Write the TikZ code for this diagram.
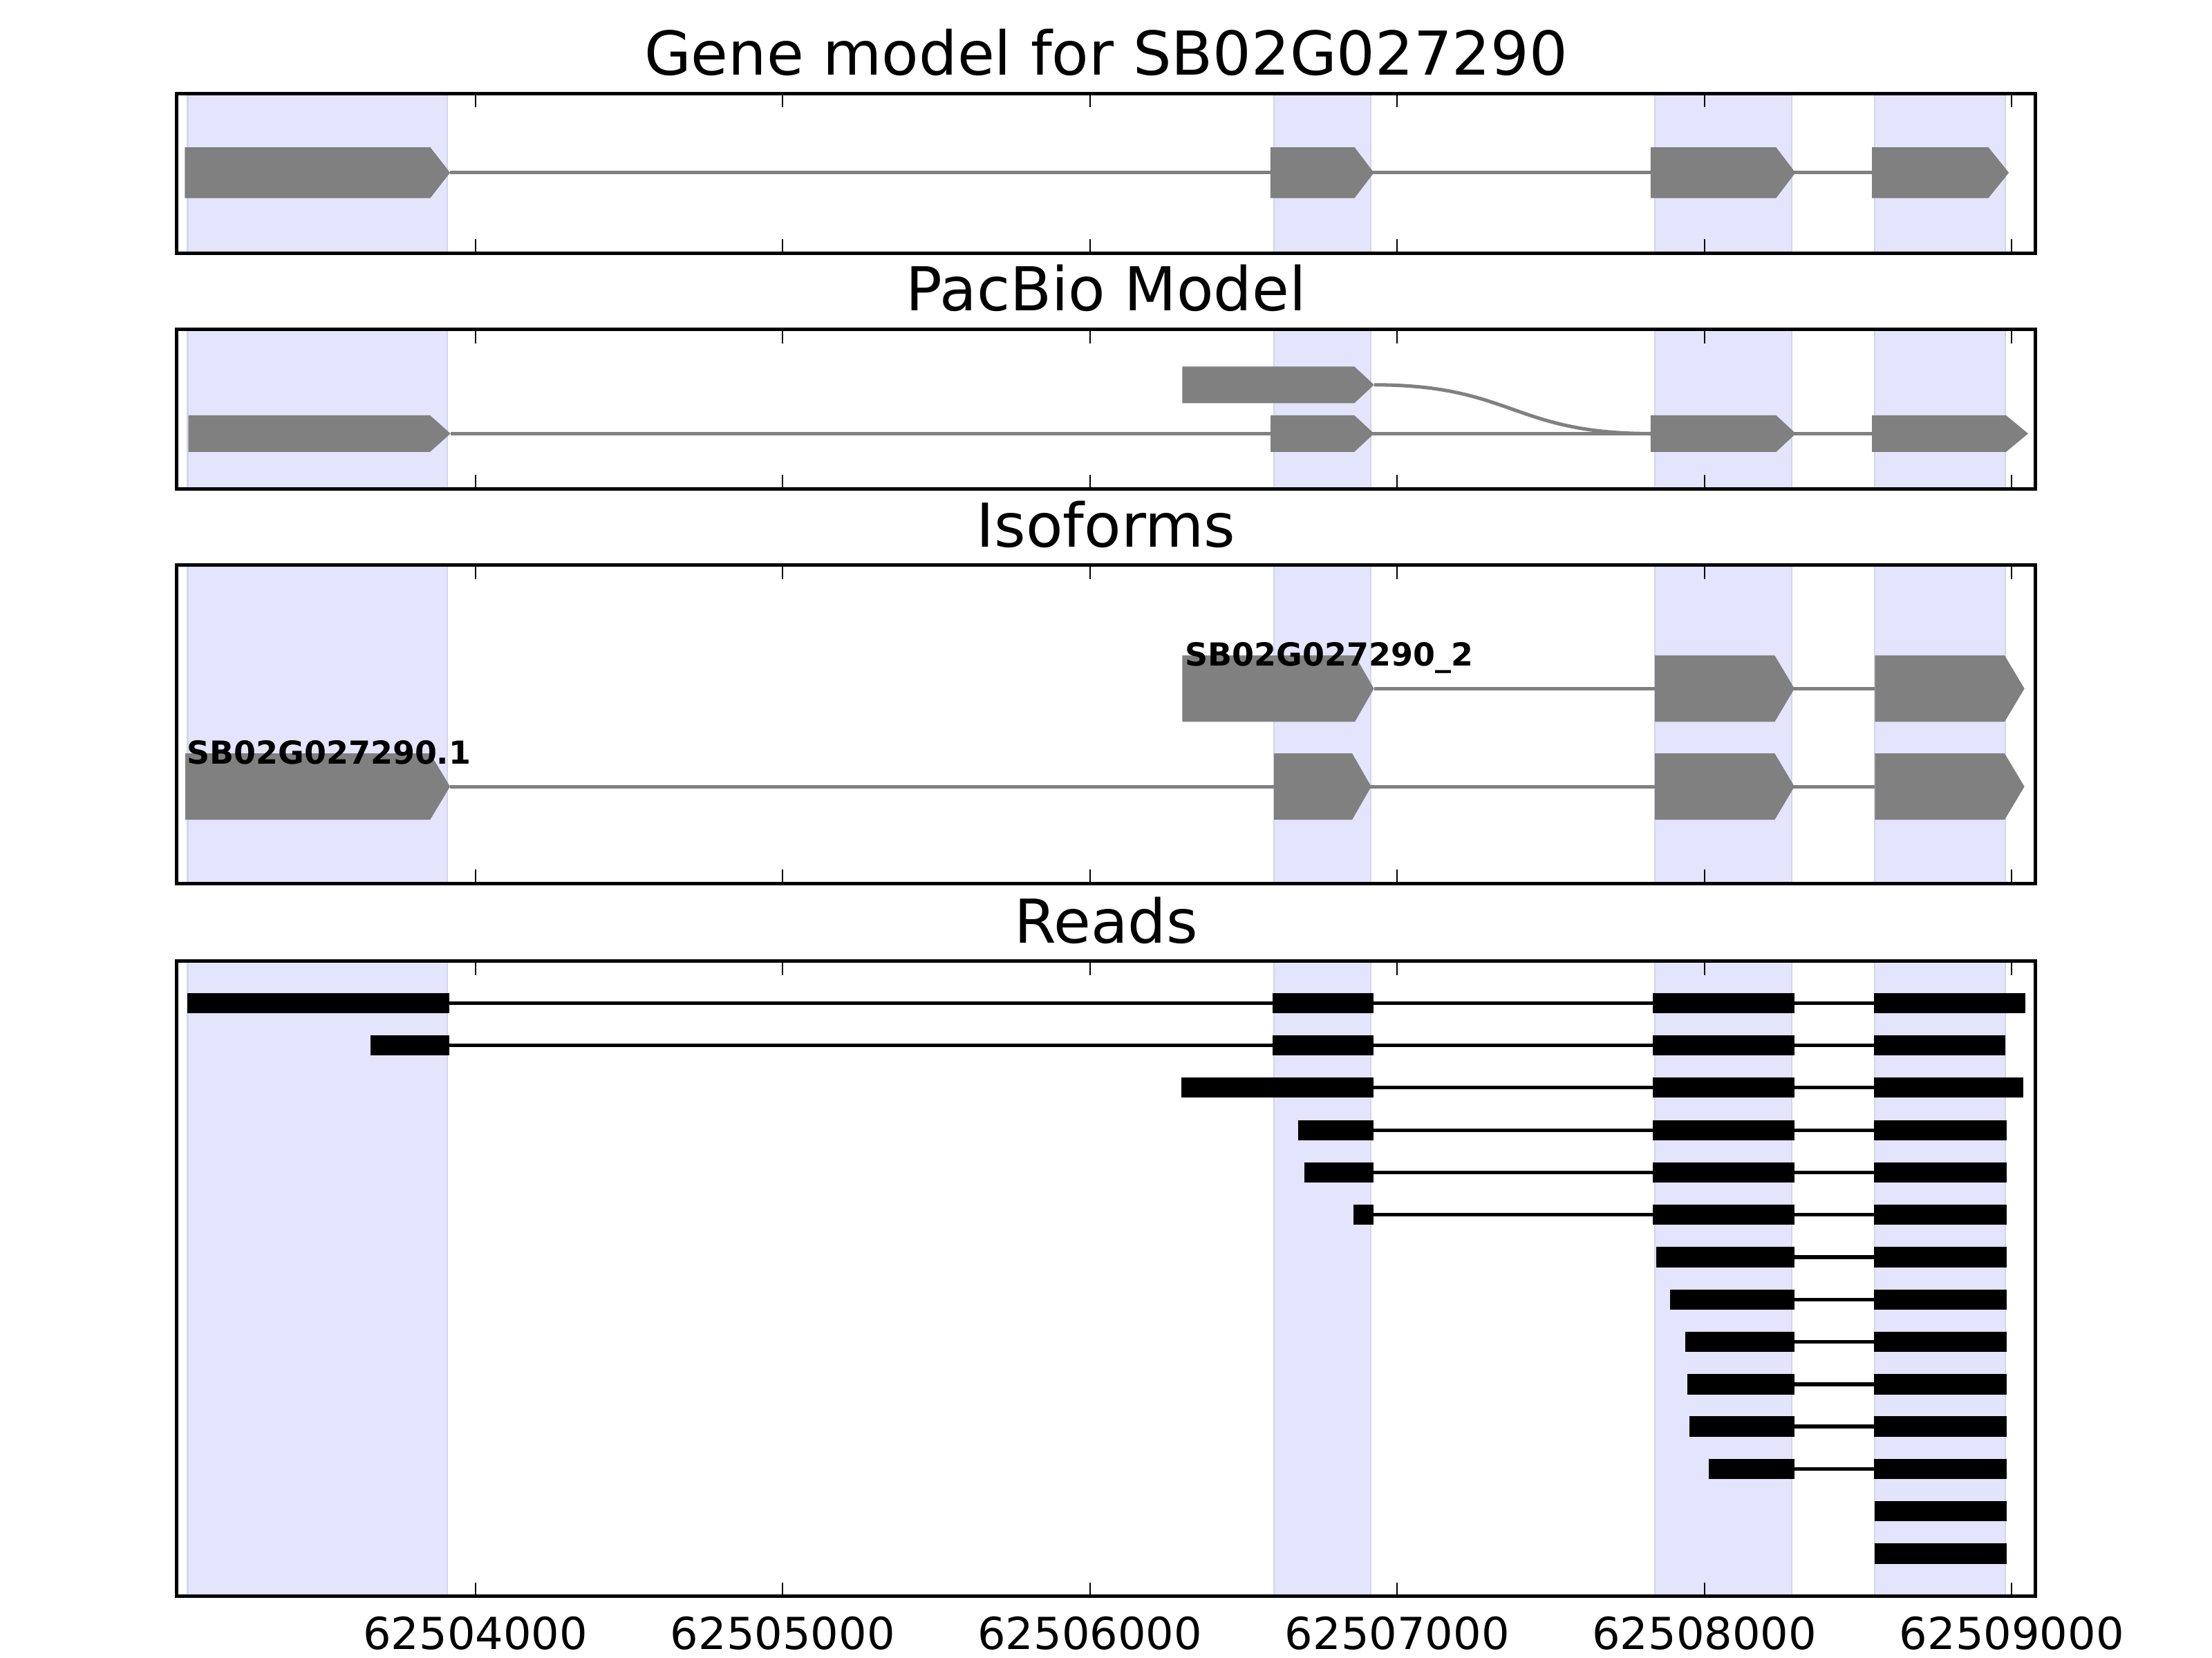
\documentclass[tikz,border=0pt]{standalone}
\usepackage{fontspec}
\setmainfont{DejaVu Sans}

\definecolor{exonshade}{RGB}{228,228,252}
\definecolor{shadeedge}{RGB}{212,212,238}
\definecolor{glyphgray}{RGB}{128,128,128}

% gene glyph: start, body end, tip, centre, half height
\newcommand{\genearrow}[5]{\fill[glyph] (#1,#4-#5) -- (#2,#4-#5) -- (#3,#4) -- (#2,#4+#5) -- (#1,#4+#5) -- cycle;}
% read block: start, end, row
\newcommand{\readbox}[3]{\fill[readblock] (#1,#3-7.2) rectangle (#2,#3+7.2);}

\begin{document}
\begin{tikzpicture}[x=2.178cm, y=-0.01cm,
    shade/.style={fill=exonshade, draw=shadeedge, line width=0.3pt},
    frame/.style={draw=black, line width=0.7pt},
    tickmark/.style={draw=black, line width=0.3pt},
    intron/.style={draw=glyphgray, line width=0.7pt},
    glyph/.style={fill=glyphgray},
    readline/.style={draw=black, line width=0.75pt},
    readblock/.style={fill=black},
    paneltitle/.style={font=\fontsize{12.2}{14}\selectfont, anchor=base, inner sep=0pt},
    ticklabel/.style={font=\fontsize{8.9}{10}\selectfont, anchor=base, inner sep=0pt},
    isolabel/.style={font=\bfseries\fontsize{6.4}{7}\selectfont, anchor=base west, inner sep=0pt}]

  \useasboundingbox (2.4527,0) rectangle (9.6520,1176);

  % panels: shaded exons, ticks, frame
  \foreach \ptop/\pbot in {66.2/179.7, 233.6/347, 401/627, 681.7/1132.5} {
    \foreach \s/\e in {3.0634/3.9082, 6.5987/6.9132, 7.8384/8.2837, 8.5546/8.9793}
      \filldraw[shade] (\s,\ptop) rectangle (\e,\pbot);
    \foreach \k in {4,...,9} {
      \draw[tickmark] (\k,\ptop) -- (\k,\ptop+10);
      \draw[tickmark] (\k,\pbot) -- (\k,\pbot-10);
    }
    \draw[frame] (3.0266,\ptop) rectangle (9.0781,\pbot);
  }

  % titles
  \node[paneltitle] (title-gene) at (6.0523,53) {Gene model for SB02G027290};
  \node[paneltitle] (title-pacbio) at (6.0523,220.5) {PacBio Model};
  \node[paneltitle] (title-iso) at (6.0523,388) {Isoforms};
  \node[paneltitle] (title-reads) at (6.0523,669) {Reads};

  % gene model
  \draw[intron] (3.9174,122.5) -- (8.5454,122.5);
  \genearrow{3.0542}{3.8531}{3.9174}{122.5}{18}
  \genearrow{6.5872}{6.8613}{6.9242}{122.5}{18}
  \genearrow{7.8246}{8.2332}{8.2961}{122.5}{18}
  \genearrow{8.5454}{8.9242}{8.9908}{122.5}{18}

  % pacbio model
  \draw[intron] (3.9187,307.6) -- (8.5454,307.6);
  \draw[intron] (6.9247,273) .. controls (7.375,273) and (7.375,307.6) .. (7.8246,307.6);
  \genearrow{6.3003}{6.8604}{6.9247}{273}{13}
  \genearrow{3.0661}{3.8522}{3.9187}{307.6}{13}
  \genearrow{6.5877}{6.8604}{6.9247}{307.6}{13}
  \genearrow{7.8246}{8.2332}{8.2975}{307.6}{13}
  \genearrow{8.5454}{8.9816}{9.0533}{307.6}{13}

  % isoforms
  \draw[intron] (6.9242,488.5) -- (8.5546,488.5);
  \draw[intron] (3.9174,558) -- (8.5546,558);
  \genearrow{6.3007}{6.8623}{6.9242}{488.5}{23.5}
  \genearrow{7.8384}{8.2287}{8.2929}{488.5}{23.5}
  \genearrow{8.5546}{8.9770}{9.0413}{488.5}{23.5}
  \genearrow{3.0556}{3.8526}{3.9174}{558}{23.5}
  \genearrow{6.5987}{6.8535}{6.9155}{558}{23.5}
  \genearrow{7.8384}{8.2287}{8.2929}{558}{23.5}
  \genearrow{8.5546}{8.9770}{9.0413}{558}{23.5}
  \node[isolabel] (lab-iso2) at (6.3072,472.4) {SB02G027290\_2};
  \node[isolabel] (lab-iso1) at (3.0583,542) {SB02G027290.1};

  % reads
  \draw[readline] (3.0629,711.5) -- (9.0436,711.5);
  \readbox{3.0629}{3.9146}{711.5}
  \readbox{6.5941}{6.9224}{711.5}
  \readbox{7.8315}{8.2929}{711.5}
  \readbox{8.5523}{9.0436}{711.5}

  \draw[readline] (3.6584,741.6) -- (8.9793,741.6);
  \readbox{3.6584}{3.9146}{741.6}
  \readbox{6.5941}{6.9224}{741.6}
  \readbox{7.8315}{8.2929}{741.6}
  \readbox{8.5523}{8.9793}{741.6}

  \draw[readline] (6.2980,771.6) -- (9.0367,771.6);
  \readbox{6.2980}{6.9224}{771.6}
  \readbox{7.8315}{8.2929}{771.6}
  \readbox{8.5523}{9.0367}{771.6}

  \draw[readline] (6.6768,801.7) -- (8.9839,801.7);
  \readbox{6.6768}{6.9224}{801.7}
  \readbox{7.8315}{8.2929}{801.7}
  \readbox{8.5523}{8.9839}{801.7}

  \draw[readline] (6.6974,831.7) -- (8.9839,831.7);
  \readbox{6.6974}{6.9224}{831.7}
  \readbox{7.8315}{8.2929}{831.7}
  \readbox{8.5523}{8.9839}{831.7}

  \draw[readline] (6.8581,861.8) -- (8.9839,861.8);
  \readbox{6.8581}{6.9224}{861.8}
  \readbox{7.8315}{8.2929}{861.8}
  \readbox{8.5523}{8.9839}{861.8}

  \draw[readline] (7.8430,891.8) -- (8.9839,891.8);
  \readbox{7.8430}{8.2929}{891.8}
  \readbox{8.5523}{8.9839}{891.8}

  \draw[readline] (7.8889,921.9) -- (8.9839,921.9);
  \readbox{7.8889}{8.2929}{921.9}
  \readbox{8.5523}{8.9839}{921.9}

  \draw[readline] (7.9371,951.9) -- (8.9839,951.9);
  \readbox{7.9371}{8.2929}{951.9}
  \readbox{8.5523}{8.9839}{951.9}

  \draw[readline] (7.9440,982.0) -- (8.9839,982.0);
  \readbox{7.9440}{8.2929}{982.0}
  \readbox{8.5523}{8.9839}{982.0}

  \draw[readline] (7.9509,1012.0) -- (8.9839,1012.0);
  \readbox{7.9509}{8.2929}{1012.0}
  \readbox{8.5523}{8.9839}{1012.0}

  \draw[readline] (8.0129,1042.1) -- (8.9839,1042.1);
  \readbox{8.0129}{8.2929}{1042.1}
  \readbox{8.5523}{8.9839}{1042.1}

  \readbox{8.5546}{8.9839}{1072.1}
  \readbox{8.5546}{8.9839}{1102.2}

  % axis labels
  \foreach \k in {4,...,9}
    \node[ticklabel] (tick\k) at (\k,1170) {6250\k000};

\end{tikzpicture}
\end{document}
